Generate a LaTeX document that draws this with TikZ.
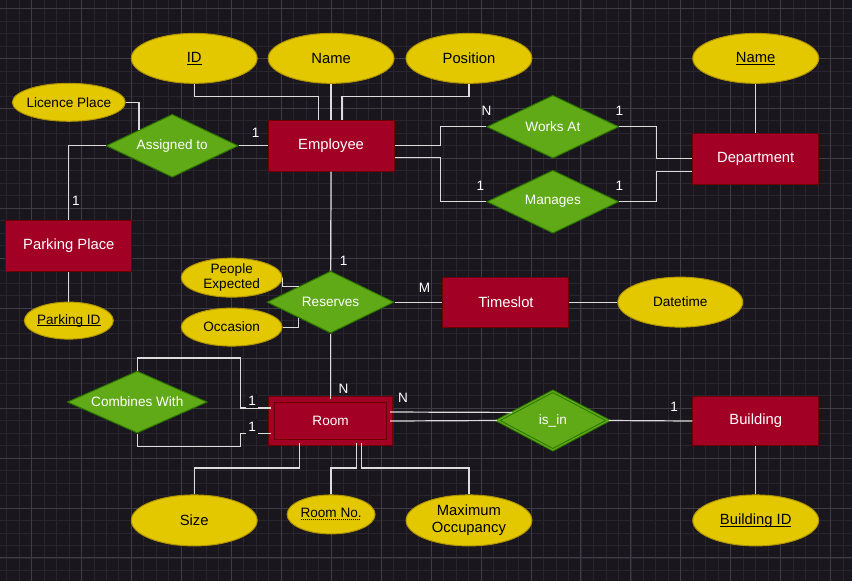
\documentclass[tikz,border=0pt]{standalone}
\usepackage{fontspec}
\setmainfont{Liberation Sans}
\usetikzlibrary{shapes.geometric,calc}

\definecolor{canvas}{RGB}{25,22,30}
\definecolor{gridminor}{RGB}{40,37,46}
\definecolor{gridmajor}{RGB}{62,60,68}
\definecolor{attrfill}{HTML}{E3C800}
\definecolor{attrline}{HTML}{B09500}
\definecolor{entfill}{HTML}{A20025}
\definecolor{entline}{HTML}{6F0000}
\definecolor{relfill}{HTML}{60A917}
\definecolor{relline}{HTML}{2D7600}
\definecolor{linkcol}{RGB}{220,220,220}

\newcommand{\bigtxt}{\fontsize{14.8}{17}\selectfont}
\newcommand{\smalltxt}{\fontsize{13.6}{15.5}\selectfont}
\newcommand{\keyul}[1]{\setbox0\hbox{#1}\rlap{\rule[-2.2pt]{\wd0}{0.9pt}}\box0}
\newcommand{\dotul}[1]{\setbox0\hbox{#1}\rlap{\hbox to \wd0{\leaders\hbox to 2pt{\hss\rule[-2.6pt]{1pt}{1pt}\hss}\hfill}}\box0}

\tikzstyle{attr}=[ellipse, draw=attrline, fill=attrfill, line width=1pt, inner xsep=-3pt, inner ysep=-1pt, minimum width=126pt, minimum height=50pt, text=black, font=\bigtxt, align=center]
\tikzstyle{smallattr}=[attr, minimum width=101pt, minimum height=39pt, font=\smalltxt]
\tikzstyle{ent}=[rectangle, draw=entline, fill=entfill, line width=1pt, minimum width=126pt, minimum height=51pt, text=white, font=\bigtxt]
\tikzstyle{rel}=[diamond, aspect=2.2, draw=relline, fill=relfill, line width=1pt, inner sep=0pt, minimum width=132pt, minimum height=63pt, text=white, font=\smalltxt]
\tikzstyle{conn}=[draw=linkcol, line width=1.2pt]
\tikzstyle{card}=[text=white, font=\smalltxt, inner sep=0pt]

\begin{document}
\begin{tikzpicture}[x=1pt, y=-1pt]

\fill[canvas] (0,0) rectangle (852,581);
\draw[gridminor, line width=0.6pt, step=12.5pt, shift={(31,8)}] (-31,573) grid (821,-8);
\draw[gridmajor, line width=0.8pt, step=50pt, shift={(31,8)}] (-31,573) grid (821,-8);

% attributes
\node (eid) [attr] at (194,58) {\keyul{ID}};
\node (ename) [attr] at (331,58) {Name};
\node (epos) [attr] at (469,58) {Position};
\node (edname) [attr] at (756,58) {\keyul{Name}};
\node (elic) [smallattr, minimum width=113pt, minimum height=38pt] at (68.5,102) {Licence Place};
\node (eparkid) [smallattr, minimum width=89pt, minimum height=37pt] at (68.5,320.5) {\keyul{Parking ID}};
\node (epeople) [smallattr] at (231.5,277.5) {People\\Expected};
\node (eocc) [smallattr, minimum height=38pt] at (231.5,327) {Occasion};
\node (edate) [smallattr, minimum width=125pt, minimum height=50pt] at (680.5,302) {Datetime};
\node (esize) [attr, minimum height=51pt] at (194,520.5) {Size};
\node (eroomno) [smallattr, minimum width=88pt] at (331,514.5) {\dotul{Room No.}};
\node (emax) [attr, minimum height=51pt] at (469,520.5) {Maximum\\Occupancy};
\node (ebid) [attr, minimum height=51pt] at (756,520.5) {\keyul{Building ID}};

% entities
\node (emp) [ent] at (331,145.5) {Employee};
\node (dept) [ent] at (756,158.5) {Department};
\node (park) [ent] at (68.5,246) {Parking Place};
\node (time) [ent, minimum height=50pt] at (506,302) {Timeslot};
\node (build) [ent, minimum height=50pt] at (756,421) {Building};
\node (room) [ent, double=entfill, double distance=4.5pt, minimum width=118pt, minimum height=43pt, font=\smalltxt] at (330.5,421) {Room};

% relationships
\node (assign) [rel] at (172,145.5) {Assigned to};
\node (works) [rel] at (553,126.5) {Works At};
\node (manages) [rel] at (553,201.5) {Manages};
\node (res) [rel, minimum width=127pt, minimum height=62pt] at (330.5,302) {Reserves};
\node (comb) [rel, minimum width=140pt, minimum height=62pt] at (137,402) {Combines With};
\node (isin) [rel, double=relfill, double distance=1.2pt, minimum width=111pt, minimum height=59pt] at (553,420.5) {is\_in};

% links
\draw[conn] (eid.south) -- ++(0,13) -| ([xshift=-13pt]emp.north);
\draw[conn] (ename.south) -- (emp.north);
\draw[conn] (epos.south) -- ++(0,13) -| ([xshift=11pt]emp.north);
\draw[conn] (elic.east) -| (assign.north west);
\draw[conn] (assign.east) -- (emp.west) node[card, xshift=-12pt, yshift=13pt] {1};
\draw[conn] (assign.west) -| (park.north) node[card, xshift=7pt, yshift=19pt] {1};
\draw[conn] (park.south) -- (eparkid.north);
\draw[conn] (edname.south) -- (dept.north);
\draw[conn] (emp.east) -- ++(46,0) |- (works.west) node[card, yshift=16pt] {N};
\draw[conn] ([yshift=-12pt]emp.east) -- ++(46,0) |- (manages.west) node[card, xshift=-6pt, yshift=16pt] {1};
\draw[conn] (works.east) node[card, yshift=16pt] {1} -- ++(37,0) |- (dept.west);
\draw[conn] (manages.east) node[card, yshift=16pt] {1} -- ++(37,0) |- ([yshift=-12.5pt]dept.west);

\draw[conn] (emp.south) -- (res.north) node[card, xshift=13pt, yshift=10pt] {1};
\draw[conn] (epeople.east) |- (res.north west);
\draw[conn] (eocc.east) -| (res.south west);
\draw[conn] (res.east) -- (time.west) node[card, xshift=-18pt, yshift=14pt] {M};
\draw[conn] (time.east) -- (edate.west);
\draw[conn] (res.south) -- (room.north) node[card, xshift=13pt, yshift=10pt] {N};

\draw[conn] (room.east) -- (isin.west);
\draw[conn] ([yshift=9pt]room.east) node[card, xshift=13pt, yshift=14pt] {N} -- ($(isin.west)!0.27!(isin.north)$);
\draw[conn] (isin.east) -- (build.west) node[card, xshift=-18pt, yshift=14pt] {1};
\draw[conn] (build.south) -- (ebid.north);

\draw[conn] ([yshift=13pt]room.west) node[card, fill=canvas, inner sep=2.5pt, xshift=-19pt, yshift=7pt] {1} -| ++(-31,-50) -| (comb.north);
\draw[conn] ([yshift=-12.5pt]room.west) node[card, fill=canvas, inner sep=2.5pt, xshift=-19pt, yshift=7pt] {1} -| ++(-31,13) -| (comb.south);

\draw[conn] ([xshift=-31pt]room.south) -- ++(0,25) -| (esize.north);
\draw[conn] ([xshift=26pt]room.south) -- ++(0,25) -| (eroomno.north);
\draw[conn] ([xshift=31pt]room.south) -- ++(0,25) -| (emax.north);

\end{tikzpicture}
\end{document}
